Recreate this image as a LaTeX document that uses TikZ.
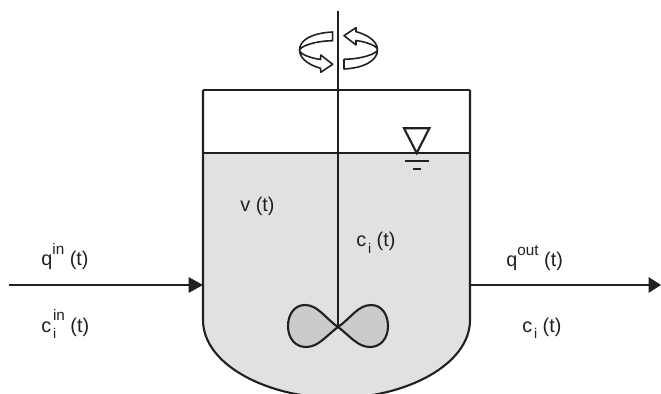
\documentclass[tikz,border=0pt]{standalone}
\usepackage{fontspec}
\setmainfont{Liberation Sans}
\usetikzlibrary{positioning}
\definecolor{inkline}{HTML}{231F20}
\definecolor{liquidgray}{HTML}{E0E1E3}
\definecolor{bladegray}{HTML}{CACBCD}
\newcommand{\hisup}[1]{\raisebox{6.8pt}{\fontsize{8.7pt}{9pt}\selectfont #1}}
\newcommand{\losub}[1]{\raisebox{-3.8pt}{\fontsize{8pt}{9pt}\selectfont #1}}
\tikzset{
  vessel/.style={draw=inkline, line width=1.2pt},
  flow/.style={draw=inkline, line width=1.7pt},
  flowtip/.style={fill=inkline, draw=none},
  swirl/.style={draw=inkline, fill=white, line width=0.9pt, line join=round},
  label/.style={font=\fontsize{11.3pt}{13pt}\selectfont, text=inkline, inner sep=0pt, anchor=base west},
}
\begin{document}
\begin{tikzpicture}[x=0.02cm, y=-0.02cm]
  \useasboundingbox (0,0) rectangle (661,394);
  \clip (0,0) rectangle (661,394);
  % liquid
  \fill[liquidgray] (203,153) -- (470,153) -- (470,320) .. controls (470,365) and (405,398) .. (337,398) .. controls (268,398) and (203,365) .. (203,320) -- cycle;
  % tank wall
  \draw[vessel] (203,90) -- (470,90);
  \draw[vessel] (203,153) -- (470,153);
  \draw[vessel] (203,90) -- (203,320) .. controls (203,365) and (268,398) .. (337,398) .. controls (405,398) and (470,365) .. (470,320) -- (470,90);
  % impeller
  \coordinate (hub) at (338,327);
  \coordinate (shafttop) at (338,11);
  \draw[vessel, fill=bladegray] (hub) .. controls (325,318) and (318,305) .. (305,305) .. controls (294,305) and (288,315) .. (288,326) .. controls (288,338) and (295,347) .. (306,347) .. controls (318,347) and (325,337) .. (hub)
    .. controls (351,318) and (358,305) .. (371,305) .. controls (382,305) and (388,315) .. (388,326) .. controls (388,338) and (381,347) .. (370,347) .. controls (358,347) and (351,337) .. (hub);
  \draw[vessel] (shafttop) -- (hub);
  % rotation arrows
  \draw[swirl] (332.7,32) .. controls (312,33) and (299.5,40) .. (299.5,50) .. controls (299.5,60) and (312,66) .. (320.7,68.3) -- (320.7,72.3) -- (332.7,64.3) -- (320.7,55) -- (320.7,59.5) .. controls (310,58) and (299.5,54) .. (299.5,50) .. controls (301,46) and (315,41) .. (332.7,40.7) -- cycle;
  \draw[swirl] (344,69) .. controls (365,68) and (377.5,60) .. (377.5,50) .. controls (377.5,40) and (365,34) .. (356,31.7) -- (356,27.7) -- (344,35.7) -- (356,45) -- (356,40.5) .. controls (367,42) and (377.5,46) .. (377.5,50) .. controls (376,54) and (362,59) .. (344,59.3) -- cycle;
  % level mark
  \coordinate (levelA) at (404,128.3);
  \coordinate (levelB) at (429.3,128.3);
  \coordinate (levelC) at (416.7,153);
  \draw[vessel] (levelA) -- (levelB) -- (levelC) -- cycle;
  \draw[vessel] (405,160.7) -- (429,160.7);
  \draw[vessel] (413.3,169.3) -- (420.7,169.3);
  % streams
  \coordinate (inlet) at (9,285);
  \coordinate (inend) at (190,285);
  \coordinate (outlet) at (470,285);
  \coordinate (outend) at (650,285);
  \draw[flow] (inlet) -- (inend);
  \fill[flowtip] (188.5,277) -- (203,285) -- (188.5,293) -- cycle;
  \draw[flow] (outlet) -- (outend);
  \fill[flowtip] (648.5,277) -- (661,285) -- (648.5,293) -- cycle;
  % labels
  \node[label] (vol) at (240,212) {v (t)};
  \node[label] (conc) at (356,247) {c\hspace{1pt}\losub{i} (t)};
  \node[label] (qin) at (41,266) {q\hisup{in} (t)};
  \node[label] (cin) at (41,332) {c\hspace{1pt}\rlap{\losub{i}}\hisup{in} (t)};
  \node[label] (qout) at (506,267) {q\hisup{out} (t)};
  \node[label] (cout) at (522,332) {c\hspace{1pt}\losub{i} (t)};
\end{tikzpicture}
\end{document}
